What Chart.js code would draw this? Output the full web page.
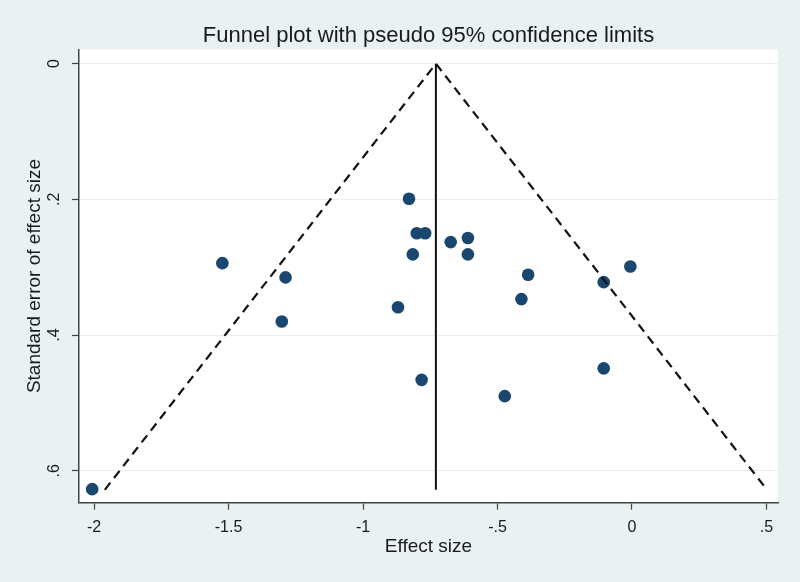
<!DOCTYPE html>
<html>
<head>
<meta charset="utf-8">
<script src="https://cdn.jsdelivr.net/npm/chart.js@4.4.0/dist/chart.umd.min.js"></script>
<style>
  html, body { margin: 0; padding: 0; background: #e9f1f3; }
  #wrap { width: 800px; height: 582px; }
</style>
</head>
<body>
<div id="wrap"><canvas id="chart" width="800" height="582"></canvas></div>
<script>
// study estimates
const effectSize = [-2.007, -1.523, -1.288, -1.302, -0.829, -0.800, -0.769, -0.815, -0.870, -0.782,
  -0.674, -0.610, -0.610, -0.386, -0.411, -0.473, -0.105, -0.006, -0.105];
const stdError = [0.627, 0.294, 0.315, 0.380, 0.199, 0.250, 0.250, 0.281, 0.359, 0.466,
  0.263, 0.257, 0.281, 0.311, 0.347, 0.490, 0.322, 0.299, 0.449];

// pooled effect line and pseudo 95% limits
const pooledX = [-0.729, -0.729];
const pooledY = [0, 0.628];
const funnelX = [-1.960, -0.729, 0.502];
const funnelY = [0.628, 0, 0.628];

const xTickValues = [-2, -1.5, -1, -0.5, 0, 0.5];
const xTickLabels = ["-2", "-1.5", "-1", "-.5", "0", ".5"];
const yTickValues = [0, 0.2, 0.4, 0.6];
const yTickLabels = ["0", ".2", ".4", ".6"];

const FONT = "'Liberation Sans', Arial, sans-serif";
const INK = "#1a1a1a";

const toPoints = (xs, ys) => xs.map((x, i) => ({ x: x, y: ys[i] }));

const plotBackground = {
  id: "plotBackground",
  beforeDraw(chart) {
    const { ctx, chartArea } = chart;
    ctx.save();
    ctx.fillStyle = "#e9f1f3";
    ctx.fillRect(0, 0, chart.width, chart.height);
    ctx.fillStyle = "#ffffff";
    ctx.fillRect(chartArea.left, chartArea.top, chartArea.right - chartArea.left, chartArea.bottom - chartArea.top);
    ctx.restore();
  },
};

new Chart(document.getElementById("chart"), {
  type: "scatter",
  data: {
    datasets: [
      {
        label: "Pooled",
        data: toPoints(pooledX, pooledY),
        showLine: true,
        borderColor: "#111111",
        borderWidth: 2,
        pointRadius: 0,
      },
      {
        label: "Pseudo 95% CI",
        data: toPoints(funnelX, funnelY),
        showLine: true,
        borderColor: "#111111",
        borderWidth: 2.2,
        borderDash: [9, 6],
        pointRadius: 0,
      },
      {
        label: "Studies",
        data: toPoints(effectSize, stdError),
        backgroundColor: "#1a476f",
        borderColor: "#1a476f",
        pointRadius: 6.3,
        borderWidth: 0,
      },
    ],
  },
  options: {
    responsive: false,
    animation: false,
    layout: { padding: { left: 0, right: 22, top: 0, bottom: 0 } },
    plugins: {
      legend: { display: false },
      tooltip: { enabled: false },
      title: {
        display: true,
        fullSize: false,
        text: "Funnel plot with pseudo 95% confidence limits",
        color: INK,
        font: { family: FONT, size: 22, weight: "normal" },
        padding: { top: 23, bottom: 0 },
      },
    },
    scales: {
      x: {
        type: "linear",
        min: -2.056,
        max: 0.543,
        afterBuildTicks: (scale) => { scale.ticks = xTickValues.map((v) => ({ value: v })); },
        afterFit: (scale) => { scale.height = 79.3; },
        border: { display: true, color: "#444444", width: 1.5 },
        grid: { drawOnChartArea: false, drawTicks: true, tickLength: 7, tickColor: "#444444", tickWidth: 1.2 },
        ticks: {
          color: INK,
          padding: 8,
          maxRotation: 0,
          font: { family: FONT, size: 16 },
          callback: (v, i) => xTickLabels[i],
        },
        title: {
          display: true,
          text: "Effect size",
          color: INK,
          font: { family: FONT, size: 19 },
          padding: { top: 0, bottom: 24 },
        },
      },
      y: {
        type: "linear",
        reverse: true,
        min: -0.021,
        max: 0.647,
        afterBuildTicks: (scale) => { scale.ticks = yTickValues.map((v) => ({ value: v })); },
        afterFit: (scale) => { scale.width = 79; },
        border: { display: true, color: "#444444", width: 1.5 },
        grid: { color: "#e9eef0", lineWidth: 1, drawTicks: true, tickLength: 7, tickColor: "#444444", tickWidth: 1.2 },
        ticks: {
          color: INK,
          padding: 11,
          minRotation: 90,
          maxRotation: 90,
          crossAlign: "center",
          font: { family: FONT, size: 16 },
          callback: (v, i) => yTickLabels[i],
        },
        title: {
          display: true,
          text: "Standard error of effect size",
          color: INK,
          font: { family: FONT, size: 19 },
          padding: { top: 23, bottom: 0 },
        },
      },
    },
  },
  plugins: [plotBackground],
});
</script>
</body>
</html>
